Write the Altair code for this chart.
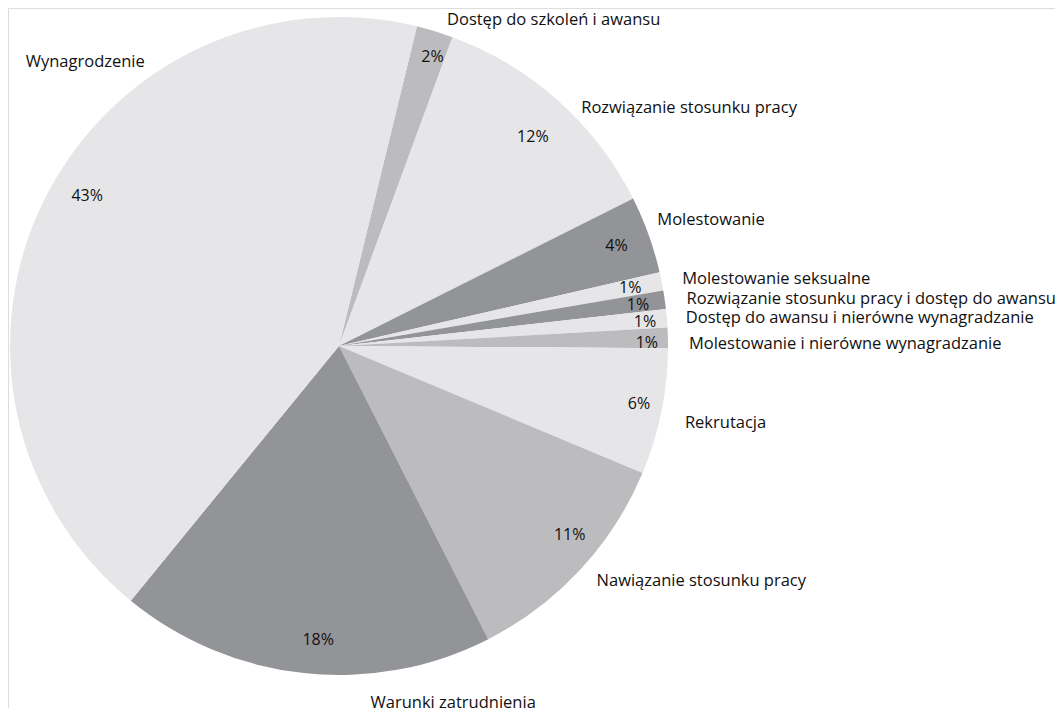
import math
import altair as alt
import pandas as pd

categories = [
    "Dostęp do szkoleń i awansu",
    "Rozwiązanie stosunku pracy",
    "Molestowanie",
    "Molestowanie seksualne",
    "Rozwiązanie stosunku pracy i dostęp do awansu",
    "Dostęp do awansu i nierówne wynagradzanie",
    "Molestowanie i nierówne wynagradzanie",
    "Rekrutacja",
    "Nawiązanie stosunku pracy",
    "Warunki zatrudnienia",
    "Wynagrodzenie",
]
shares = [1.8, 12.0, 3.8, 0.9, 0.9, 0.9, 1.0, 6.2, 11.2, 18.4, 42.9]
pct_labels = ["2%", "12%", "4%", "1%", "1%", "1%", "1%", "6%", "11%", "18%", "43%"]
shades = ["medium", "light", "dark", "light", "dark", "light", "medium",
          "light", "medium", "dark", "light"]

shade_names = ["light", "medium", "dark"]
shade_colors = ["#e6e6e8", "#bcbcbe", "#939498"]

df = pd.DataFrame({
    "idx": list(range(len(categories))),
    "category": categories,
    "value": shares,
    "pct": pct_labels,
    "shade": shades,
})

# --- styling: label nudges (offsets from the slice's mid-angle anchor) ---
OUTER_NUDGE = [(6, 9), (9, 23), (-11, -8), (0, 2), (1, 2), (-2, 2), (0, 7),
               (3, 7), (1, -3), (69, 9), (0, -128)]
PCT_NUDGE = [(7, -5), (-4, 12), (-2, 1), (0, 0), (5, 1), (10, 1), (11, 4),
             (9, -1), (13, -13), (11, -1), (14, -18)]

FONT = "Open Sans"
FS = 16.5
PFS = 16
TXT = "#111111"
start = math.radians(13.7)
theta_scale = alt.Scale(domain=[0, 100], range=[start, start + 2 * math.pi])
CX, CY = 331, 338
R = 329

base = (
    alt.Chart(df)
    .transform_stack(stack="value", as_=["v0", "v1"], groupby=[],
                     sort=[alt.SortField("idx", order="ascending")])
    .transform_calculate(mid="(datum.v0 + datum.v1) / 2")
)

arcs = base.mark_arc(outerRadius=R).encode(
    theta=alt.Theta("v0:Q", scale=theta_scale, stack=None),
    theta2="v1:Q",
    color=alt.Color("shade:N", scale=alt.Scale(domain=shade_names, range=shade_colors), legend=None),
    x=alt.value(CX),
    y=alt.value(CY),
)

layers = [arcs]
for i in range(len(categories)):
    sub = base.transform_filter(f"datum.idx == {i}")
    pdx, pdy = PCT_NUDGE[i]
    layers.append(
        sub.mark_text(radius=297, font=FONT, fontSize=PFS, color=TXT,
                      align="center", baseline="middle", dx=pdx, dy=pdy).encode(
            theta=alt.Theta("mid:Q", scale=theta_scale, stack=None),
            text="pct:N",
            x=alt.value(CX),
            y=alt.value(CY),
        )
    )
    odx, ody = OUTER_NUDGE[i]
    layers.append(
        sub.mark_text(radius=350, font=FONT, fontSize=FS, color=TXT,
                      align="left", baseline="middle", dx=odx, dy=ody).encode(
            theta=alt.Theta("mid:Q", scale=theta_scale, stack=None),
            text="category:N",
            x=alt.value(CX),
            y=alt.value(CY),
        )
    )

chart = (
    alt.layer(*layers)
    .properties(width=1047, height=700, padding=0,
                autosize=alt.AutoSizeParams(type="none"))
    .configure_view(stroke="transparent", strokeWidth=0)
    .configure_axis(domain=False, grid=False, ticks=False, labels=False)
    .configure(background="white")
)

chart.save("out.html", embed_options={"renderer": "svg", "actions": False})
